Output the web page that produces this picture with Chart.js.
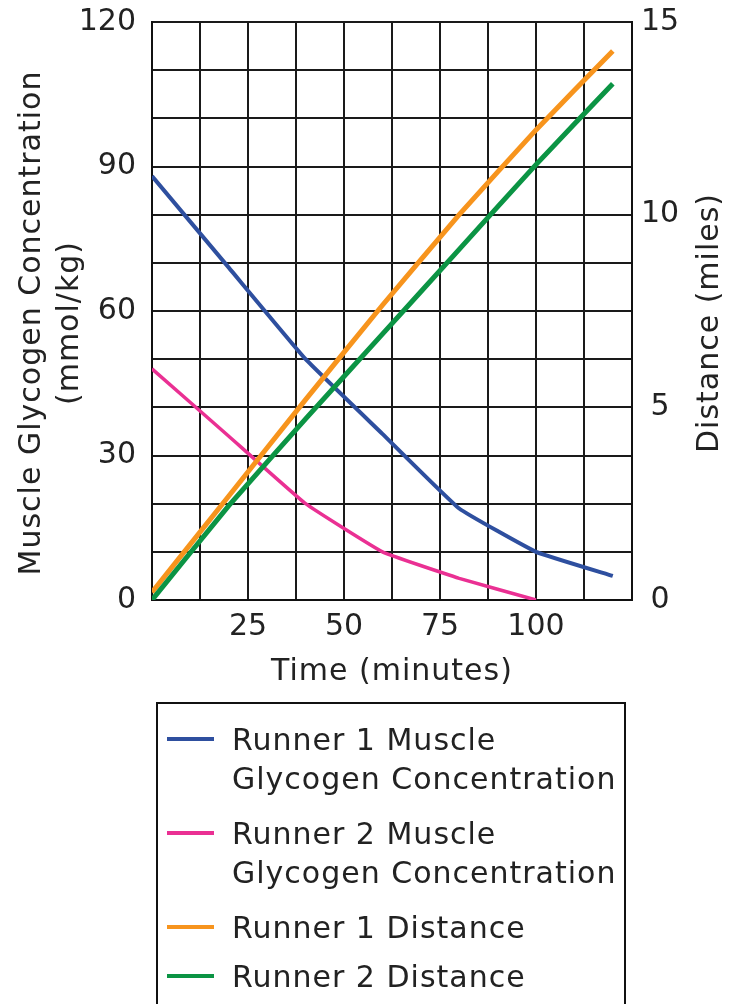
<!DOCTYPE html>
<html>
<head>
<meta charset="utf-8">
<script src="https://cdn.jsdelivr.net/npm/chart.js@4.4.1/dist/chart.umd.min.js"></script>
<style>
  html, body { margin: 0; padding: 0; background: #fff; }
  canvas { display: block; }
</style>
</head>
<body>
<canvas id="myChart" width="729" height="1004"></canvas>
<script>
// data
const times = [0, 20, 40, 60, 80, 100, 120];
const runner1Glycogen = [88, 69, 50, 34.5, 19, 10, 5];
const runner2Glycogen = [48, 34, 20, 10, 4.5, 0, null];
const runner1Distance = [0.2, 2.7, 5.2, 7.65, 10, 12.2, 14.25];
const runner2Distance = [0, 2.45, 4.7, 6.9, 9.1, 11.3, 13.4];

const seriesNames = [
  ["Runner 1 Muscle", "Glycogen Concentration"],
  ["Runner 2 Muscle", "Glycogen Concentration"],
  ["Runner 1 Distance"],
  ["Runner 2 Distance"],
];
const xTickLabels = [25, 50, 75, 100];
const glycogenTickLabels = [0, 30, 60, 90, 120];
const distanceTickLabels = [0, 5, 10, 15];
const xTitle = "Time (minutes)";
const glycogenTitle = ["Muscle Glycogen Concentration", "(mmol/kg)"];
const distanceTitle = "Distance (miles)";

const FONT_FAMILY = "'DejaVu Sans', Verdana, sans-serif";
const TEXT_COLOR = "#222";

function toPoints(values) {
  return times.map((t, i) => ({ x: t, y: values[i] }));
}

// titles and the boxed legend, drawn onto the same canvas
const extraText = {
  id: "extraText",
  afterDraw(chart) {
    const ctx = chart.ctx;
    const area = chart.chartArea;
    const midY = (area.top + area.bottom) / 2 + 12;

    ctx.save();
    ctx.fillStyle = TEXT_COLOR;
    ctx.font = "30px " + FONT_FAMILY;
    ctx.letterSpacing = "1px";
    ctx.textBaseline = "alphabetic";
    ctx.textAlign = "center";

    ctx.fillText(xTitle, (area.left + area.right) / 2, area.bottom + 80);

    ctx.save();
    ctx.translate(40, midY);
    ctx.rotate(-Math.PI / 2);
    glycogenTitle.forEach((line, i) => ctx.fillText(line, 0, i * 38));
    ctx.restore();

    ctx.save();
    ctx.translate(area.right + 86, midY);
    ctx.rotate(-Math.PI / 2);
    ctx.fillText(distanceTitle, 0, 0);
    ctx.restore();

    // legend box
    ctx.strokeStyle = "#111";
    ctx.lineWidth = 2;
    ctx.strokeRect(157, 703, 468, 330);

    ctx.textAlign = "left";
    let y = 750;
    chart.data.datasets.forEach((ds, i) => {
      const lines = seriesNames[i];
      ctx.strokeStyle = ds.borderColor;
      ctx.lineWidth = 4;
      ctx.beginPath();
      ctx.moveTo(167, y - 11);
      ctx.lineTo(214, y - 11);
      ctx.stroke();
      lines.forEach((line, j) => ctx.fillText(line, 232, y + j * 38.5));
      y += lines.length * 38.5 + (lines.length > 1 ? 17 : 10.5);
    });
    ctx.restore();
  },
};

// fixed axis sizes so the plot box lands where it does in the picture
function fixWidth(width) {
  return function (scale) {
    scale.width = width;
    scale.paddingTop = 0;
    scale.paddingBottom = 0;
  };
}

const ctx = document.getElementById("myChart");

new Chart(ctx, {
  type: "line",
  data: {
    datasets: [
      {
        label: seriesNames[0].join(" "),
        data: toPoints(runner1Glycogen),
        yAxisID: "y",
        borderColor: "#2e4f9f",
        borderWidth: 4,
        order: 3,
      },
      {
        label: seriesNames[1].join(" "),
        data: toPoints(runner2Glycogen),
        yAxisID: "y",
        borderColor: "#ea3093",
        borderWidth: 3.5,
        order: 2,
      },
      {
        label: seriesNames[2].join(" "),
        data: toPoints(runner1Distance),
        yAxisID: "y1",
        borderColor: "#f7941d",
        borderWidth: 5,
        order: 1,
      },
      {
        label: seriesNames[3].join(" "),
        data: toPoints(runner2Distance),
        yAxisID: "y1",
        borderColor: "#0b9444",
        borderWidth: 5,
        order: 0,
      },
    ],
  },
  options: {
    responsive: false,
    animation: false,
    devicePixelRatio: 1,
    layout: { padding: { top: 22, left: 0, right: 0, bottom: 0 } },
    elements: {
      point: { radius: 0, hoverRadius: 0 },
      line: { tension: 0.1, fill: false },
    },
    plugins: {
      legend: { display: false },
      tooltip: { enabled: false },
    },
    scales: {
      x: {
        type: "linear",
        min: 0,
        max: 125,
        ticks: {
          stepSize: 12.5,
          autoSkip: false,
          maxRotation: 0,
          padding: 9,
          color: TEXT_COLOR,
          font: { family: FONT_FAMILY, size: 30 },
          callback: (v) => (xTickLabels.includes(v) ? String(v) : ""),
        },
        grid: { color: "#1a1a1a", lineWidth: 2, drawTicks: false },
        border: { color: "#111", width: 2 },
        afterFit(scale) {
          scale.height = 404;
        },
      },
      y: {
        position: "left",
        min: 0,
        max: 120,
        ticks: {
          stepSize: 10,
          padding: 16,
          color: TEXT_COLOR,
          font: { family: FONT_FAMILY, size: 30 },
          callback: (v) => (glycogenTickLabels.includes(v) ? String(v) : ""),
        },
        grid: { color: "#1a1a1a", lineWidth: 2, drawTicks: false },
        border: { color: "#111", width: 2 },
        afterFit: fixWidth(152),
      },
      y1: {
        position: "right",
        min: 0,
        max: 15,
        ticks: {
          stepSize: 5,
          padding: 9,
          crossAlign: "center",
          color: TEXT_COLOR,
          font: { family: FONT_FAMILY, size: 30 },
          callback: (v) => (distanceTickLabels.includes(v) ? String(v) : ""),
        },
        grid: { display: false, drawTicks: false },
        border: { color: "#111", width: 2 },
        afterFit: fixWidth(97),
      },
    },
  },
  plugins: [extraText],
});
</script>
</body>
</html>
